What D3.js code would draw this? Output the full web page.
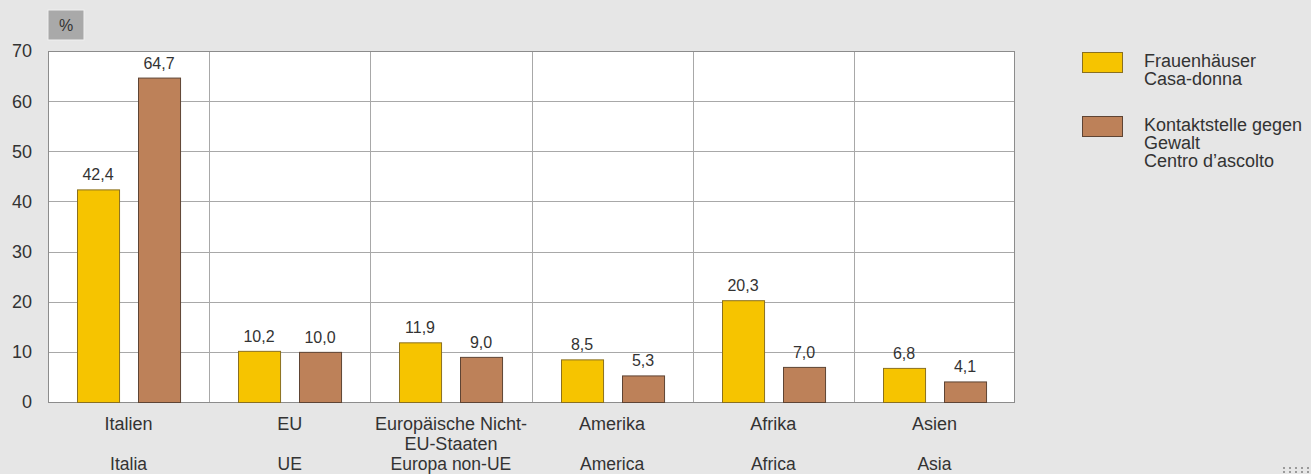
<!DOCTYPE html>
<html>
<head>
<meta charset="utf-8" />
<script src="https://cdn.jsdelivr.net/npm/d3@7"></script>
<style>
  body { margin: 0; background: #e6e6e6; }
  svg { display: block; font-family: "Liberation Sans", Arial, sans-serif; }
</style>
</head>
<body>
<div id="chart"></div>
<script>
// data
var categoriesDe = ["Italien", "EU", "Europäische Nicht-\nEU-Staaten", "Amerika", "Afrika", "Asien"];
var categoriesIt = ["Italia", "UE", "Europa non-UE", "America", "Africa", "Asia"];
var frauenhaeuser = [42.4, 10.2, 11.9, 8.5, 20.3, 6.8];
var kontaktstelle = [64.7, 10.0, 9.0, 5.3, 7.0, 4.1];
var seriesNames = [["Frauenhäuser", "Casa-donna"], ["Kontaktstelle gegen", "Gewalt", "Centro d\u2019ascolto"]];
var yTicks = [0, 10, 20, 30, 40, 50, 60, 70];

var colors = ["#f6c400", "#bd8159"];
var strokes = ["#8a7020", "#5e4434"];

var W = 1311, H = 474;
var plotL = 48, plotR = 1015, plotT = 51, plotB = 402;

var svg = d3.select("#chart").append("svg")
  .attr("width", W).attr("height", H);

svg.append("rect").attr("width", W).attr("height", H).attr("fill", "#e6e6e6");

// scales
var x = d3.scaleBand()
  .domain(d3.range(categoriesDe.length))
  .range([plotL, plotR]);

var y = d3.scaleLinear()
  .domain([0, 70])
  .range([plotB, plotT]);

var bw = x.bandwidth();
var barW = bw * 42 / 161;
var offs = [bw * 29 / 161, bw * 90 / 161];

// plot background
svg.append("rect")
  .attr("x", plotL).attr("y", plotT)
  .attr("width", plotR - plotL).attr("height", plotB - plotT)
  .attr("fill", "#ffffff");

// horizontal grid
svg.append("g").selectAll("line")
  .data(yTicks.slice(1, -1))
  .enter().append("line")
  .attr("x1", plotL).attr("x2", plotR)
  .attr("y1", function(d) { return Math.round(y(d)) + 0.5; })
  .attr("y2", function(d) { return Math.round(y(d)) + 0.5; })
  .attr("stroke", "#a8a8a8").attr("stroke-width", 1);

// vertical separators
svg.append("g").selectAll("line")
  .data(d3.range(1, categoriesDe.length))
  .enter().append("line")
  .attr("x1", function(d) { return Math.round(x(d)) + 0.5; })
  .attr("x2", function(d) { return Math.round(x(d)) + 0.5; })
  .attr("y1", plotT).attr("y2", plotB)
  .attr("stroke", "#a8a8a8").attr("stroke-width", 1);

// frame
svg.append("rect")
  .attr("x", plotL + 0.5).attr("y", plotT + 0.5)
  .attr("width", plotR - plotL - 1).attr("height", plotB - plotT)
  .attr("fill", "none").attr("stroke", "#8c8c8c").attr("stroke-width", 1);

// bars
[frauenhaeuser, kontaktstelle].forEach(function(series, s) {
  var g = svg.append("g");
  g.selectAll("rect")
    .data(series)
    .enter().append("rect")
    .attr("x", function(d, i) { return Math.round(x(i) + offs[s]) + 0.5; })
    .attr("y", function(d) { return y(d) + 0.5; })
    .attr("width", barW)
    .attr("height", function(d) { return y(0) - y(d); })
    .attr("fill", colors[s])
    .attr("stroke", strokes[s]).attr("stroke-width", 1);

  g.selectAll("text")
    .data(series)
    .enter().append("text")
    .attr("x", function(d, i) { return Math.round(x(i) + offs[s]) + barW / 2; })
    .attr("y", function(d) { return y(d) - 9; })
    .attr("text-anchor", "middle")
    .attr("font-size", 16)
    .attr("fill", "#333")
    .text(function(d) { return d3.format(".1f")(d).replace(".", ","); });
});

// y axis labels
svg.append("g").selectAll("text")
  .data(yTicks)
  .enter().append("text")
  .attr("x", 32)
  .attr("y", function(d) { return y(d); })
  .attr("dy", "0.36em")
  .attr("text-anchor", "end")
  .attr("font-size", 18)
  .attr("fill", "#333")
  .text(function(d) { return d; });

// % box
svg.append("rect")
  .attr("x", 48).attr("y", 10).attr("width", 36).attr("height", 30)
  .attr("fill", "#a9a9a9").attr("stroke", "#f0f0f0").attr("stroke-width", 1);
svg.append("text")
  .attr("x", 66).attr("y", 31)
  .attr("text-anchor", "middle").attr("font-size", 16).attr("fill", "#333")
  .text("%");

// category labels
var catG = svg.append("g");
categoriesDe.forEach(function(c, i) {
  var cx = x(i) + bw / 2;
  var t = catG.append("text")
    .attr("x", cx).attr("y", 430)
    .attr("text-anchor", "middle").attr("font-size", 18).attr("fill", "#333");
  c.split("\n").forEach(function(line, k) {
    t.append("tspan").attr("x", cx).attr("dy", k ? 20 : 0).text(line);
  });
  catG.append("text")
    .attr("x", cx).attr("y", 470)
    .attr("text-anchor", "middle").attr("font-size", 17.5).attr("fill", "#333")
    .text(categoriesIt[i]);
});

// legend
var legY = [52, 116];
seriesNames.forEach(function(names, s) {
  svg.append("rect")
    .attr("x", 1082.5).attr("y", legY[s] + 0.5)
    .attr("width", 40).attr("height", 20)
    .attr("fill", colors[s]).attr("stroke", strokes[s]);
  var t = svg.append("text")
    .attr("x", 1144).attr("y", legY[s] + 15)
    .attr("font-size", 18).attr("fill", "#333");
  names.forEach(function(n, k) {
    t.append("tspan").attr("x", 1144).attr("dy", k ? 18 : 0).text(n);
  });
});

// little dotted mark bottom right
svg.append("g").selectAll("rect")
  .data(d3.range(10))
  .enter().append("rect")
  .attr("x", function(d) { return 1283 + (d % 5) * 6; })
  .attr("y", function(d) { return 467 + Math.floor(d / 5) * 4; })
  .attr("width", 2).attr("height", 2)
  .attr("fill", "#9a9a9a");
</script>
</body>
</html>
